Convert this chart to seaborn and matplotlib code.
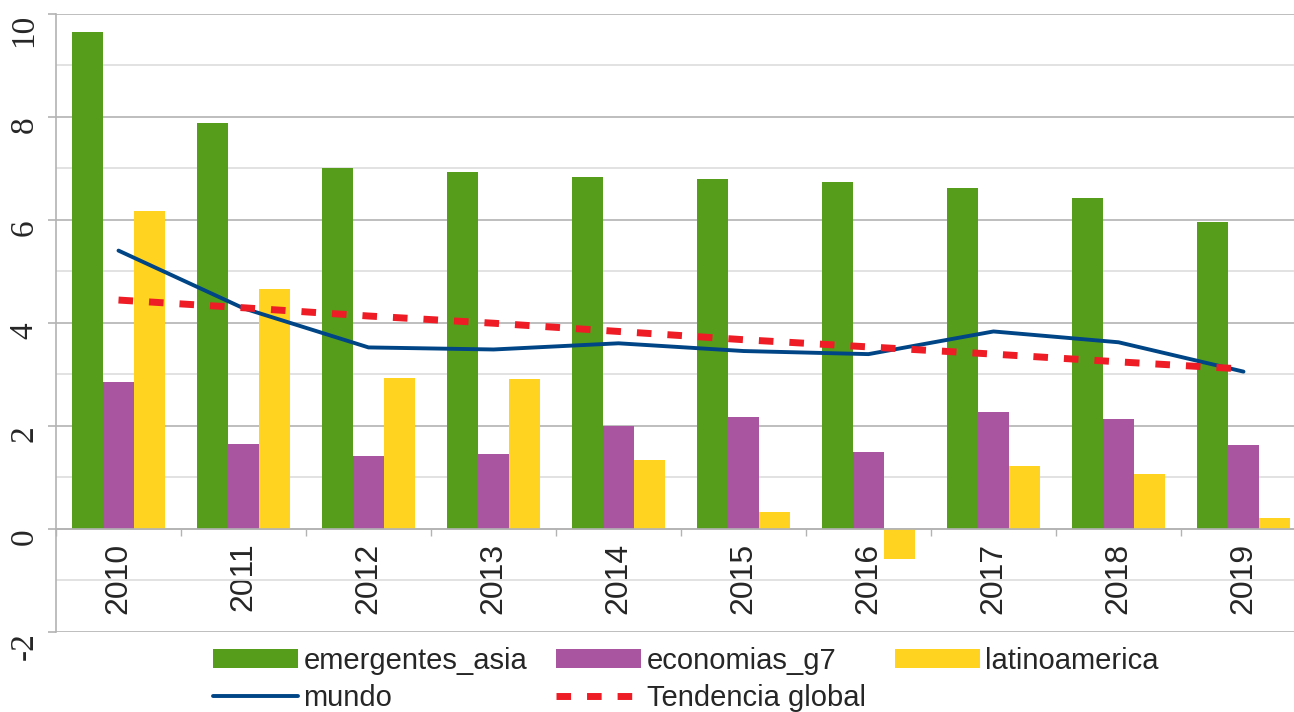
import numpy as np
import pandas as pd
import seaborn as sns
import matplotlib.pyplot as plt
from matplotlib.patches import Patch
from matplotlib.lines import Line2D

# ============================================================
# DATA
# ============================================================
anios = ["2010", "2011", "2012", "2013", "2014", "2015", "2016", "2017", "2018", "2019"]
emergentes_asia = [9.64, 7.88, 7.00, 6.92, 6.83, 6.79, 6.73, 6.62, 6.42, 5.95]
economias_g7 = [2.85, 1.64, 1.41, 1.45, 1.99, 2.17, 1.48, 2.26, 2.13, 1.63]
latinoamerica = [6.17, 4.65, 2.93, 2.91, 1.33, 0.32, -0.59, 1.22, 1.06, 0.21]
mundo = [5.40, 4.28, 3.52, 3.48, 3.60, 3.45, 3.39, 3.83, 3.62, 3.05]
tendencia = [4.44, 4.29, 4.13, 3.99, 3.83, 3.67, 3.53, 3.39, 3.24, 3.10]
y_ticks = [-2, 0, 2, 4, 6, 8, 10]

series = ["emergentes_asia", "economias_g7", "latinoamerica"]
colores = ["#579d1c", "#a9559f", "#ffd320"]
color_mundo = "#004586"
color_tend = "#ee1c25"

# ============================================================
# STYLE
# ============================================================
sns.set_theme(style="white")
plt.rcParams["font.family"] = ["Liberation Sans", "DejaVu Sans"]
plt.rcParams["font.serif"] = ["Liberation Serif", "DejaVu Serif"]
plt.rcParams["axes.unicode_minus"] = False

df = pd.DataFrame({
    "anio": anios * 3,
    "serie": np.repeat(series, len(anios)),
    "valor": emergentes_asia + economias_g7 + latinoamerica,
})

fig = plt.figure(figsize=(12.94, 7.12), dpi=100)
W, H = 1294, 712
ax = fig.add_axes([56 / W, 1 - 631.7 / H, 1250 / W, (631.7 - 13.7) / H])

# ============================================================
# BARS + LINES
# ============================================================
sns.barplot(data=df, x="anio", y="valor", hue="serie", hue_order=series,
            palette=colores, saturation=1, width=0.744, gap=0,
            errorbar=None, legend=False, linewidth=0, ax=ax)

x = np.arange(len(anios))
sns.lineplot(x=x, y=mundo, color=color_mundo, lw=2.8, ax=ax, legend=False,
             zorder=4)
sns.lineplot(x=x, y=tendencia, color=color_tend, lw=5, ax=ax, legend=False,
             linestyle=(0, (2.1, 2.3)), dash_capstyle="butt", zorder=5)

# ============================================================
# AXES
# ============================================================
ax.set_xlim(-0.5, len(anios) - 0.5)
ax.set_ylim(-2, 10)
ax.set_xlabel("")
ax.set_ylabel("")

ax.set_yticks(y_ticks)
ax.set_yticks(range(-1, 10, 2), minor=True)
ax.set_axisbelow(True)
ax.grid(True, which="major", axis="y", color="#b3b3b3", lw=1.2)
ax.grid(True, which="minor", axis="y", color="#dddddd", lw=1.2)
ax.grid(False, axis="x", which="both")

ax.set_xticks(x)
ax.set_xticklabels(anios)
ax.set_xticks(np.arange(-0.5, len(anios), 1), minor=True)

for s in ["top", "right"]:
    ax.spines[s].set_visible(False)
ax.spines["bottom"].set_position(("data", 0))
ax.spines["bottom"].set_color("#b3b3b3")
ax.spines["bottom"].set_linewidth(1.2)
ax.spines["left"].set_color("#b3b3b3")
ax.spines["left"].set_linewidth(1.2)

ax.tick_params(axis="x", which="major", length=0, pad=10, labelsize=23,
               labelrotation=90, bottom=True)
ax.tick_params(axis="x", which="minor", length=5, width=1, color="#b3b3b3",
               direction="out", bottom=True)
ax.tick_params(axis="y", which="major", length=6, width=1.2, color="#b3b3b3",
               direction="out", pad=6, left=True)
ax.tick_params(axis="y", which="minor", length=0)

# serif, rotated y labels (set last so nothing overrides them)
ax.set_yticklabels([str(v) for v in y_ticks], rotation=90, va="top",
                   fontfamily="serif", fontsize=24)

# ============================================================
# LEGEND
# ============================================================
handles = [
    Patch(facecolor=colores[0], edgecolor="none"),
    Line2D([], [], color=color_mundo, lw=2.8),
    Patch(facecolor=colores[1], edgecolor="none"),
    Line2D([], [], color=color_tend, lw=5, linestyle=(0, (2.1, 2.3)),
           dash_capstyle="butt"),
    Patch(facecolor=colores[2], edgecolor="none"),
]
labels = ["emergentes_asia", "mundo", "economias_g7", "Tendencia global",
          "latinoamerica"]
fig.legend(handles, labels, loc="upper left",
           bbox_to_anchor=(213 / W, 1 - 647 / H), ncol=3, frameon=False,
           fontsize=21, handlelength=2.9, handleheight=0.62,
           handletextpad=0.2, columnspacing=1.0, labelspacing=0.32,
           borderpad=0, borderaxespad=0)

fig.savefig("out.png", dpi=100)
